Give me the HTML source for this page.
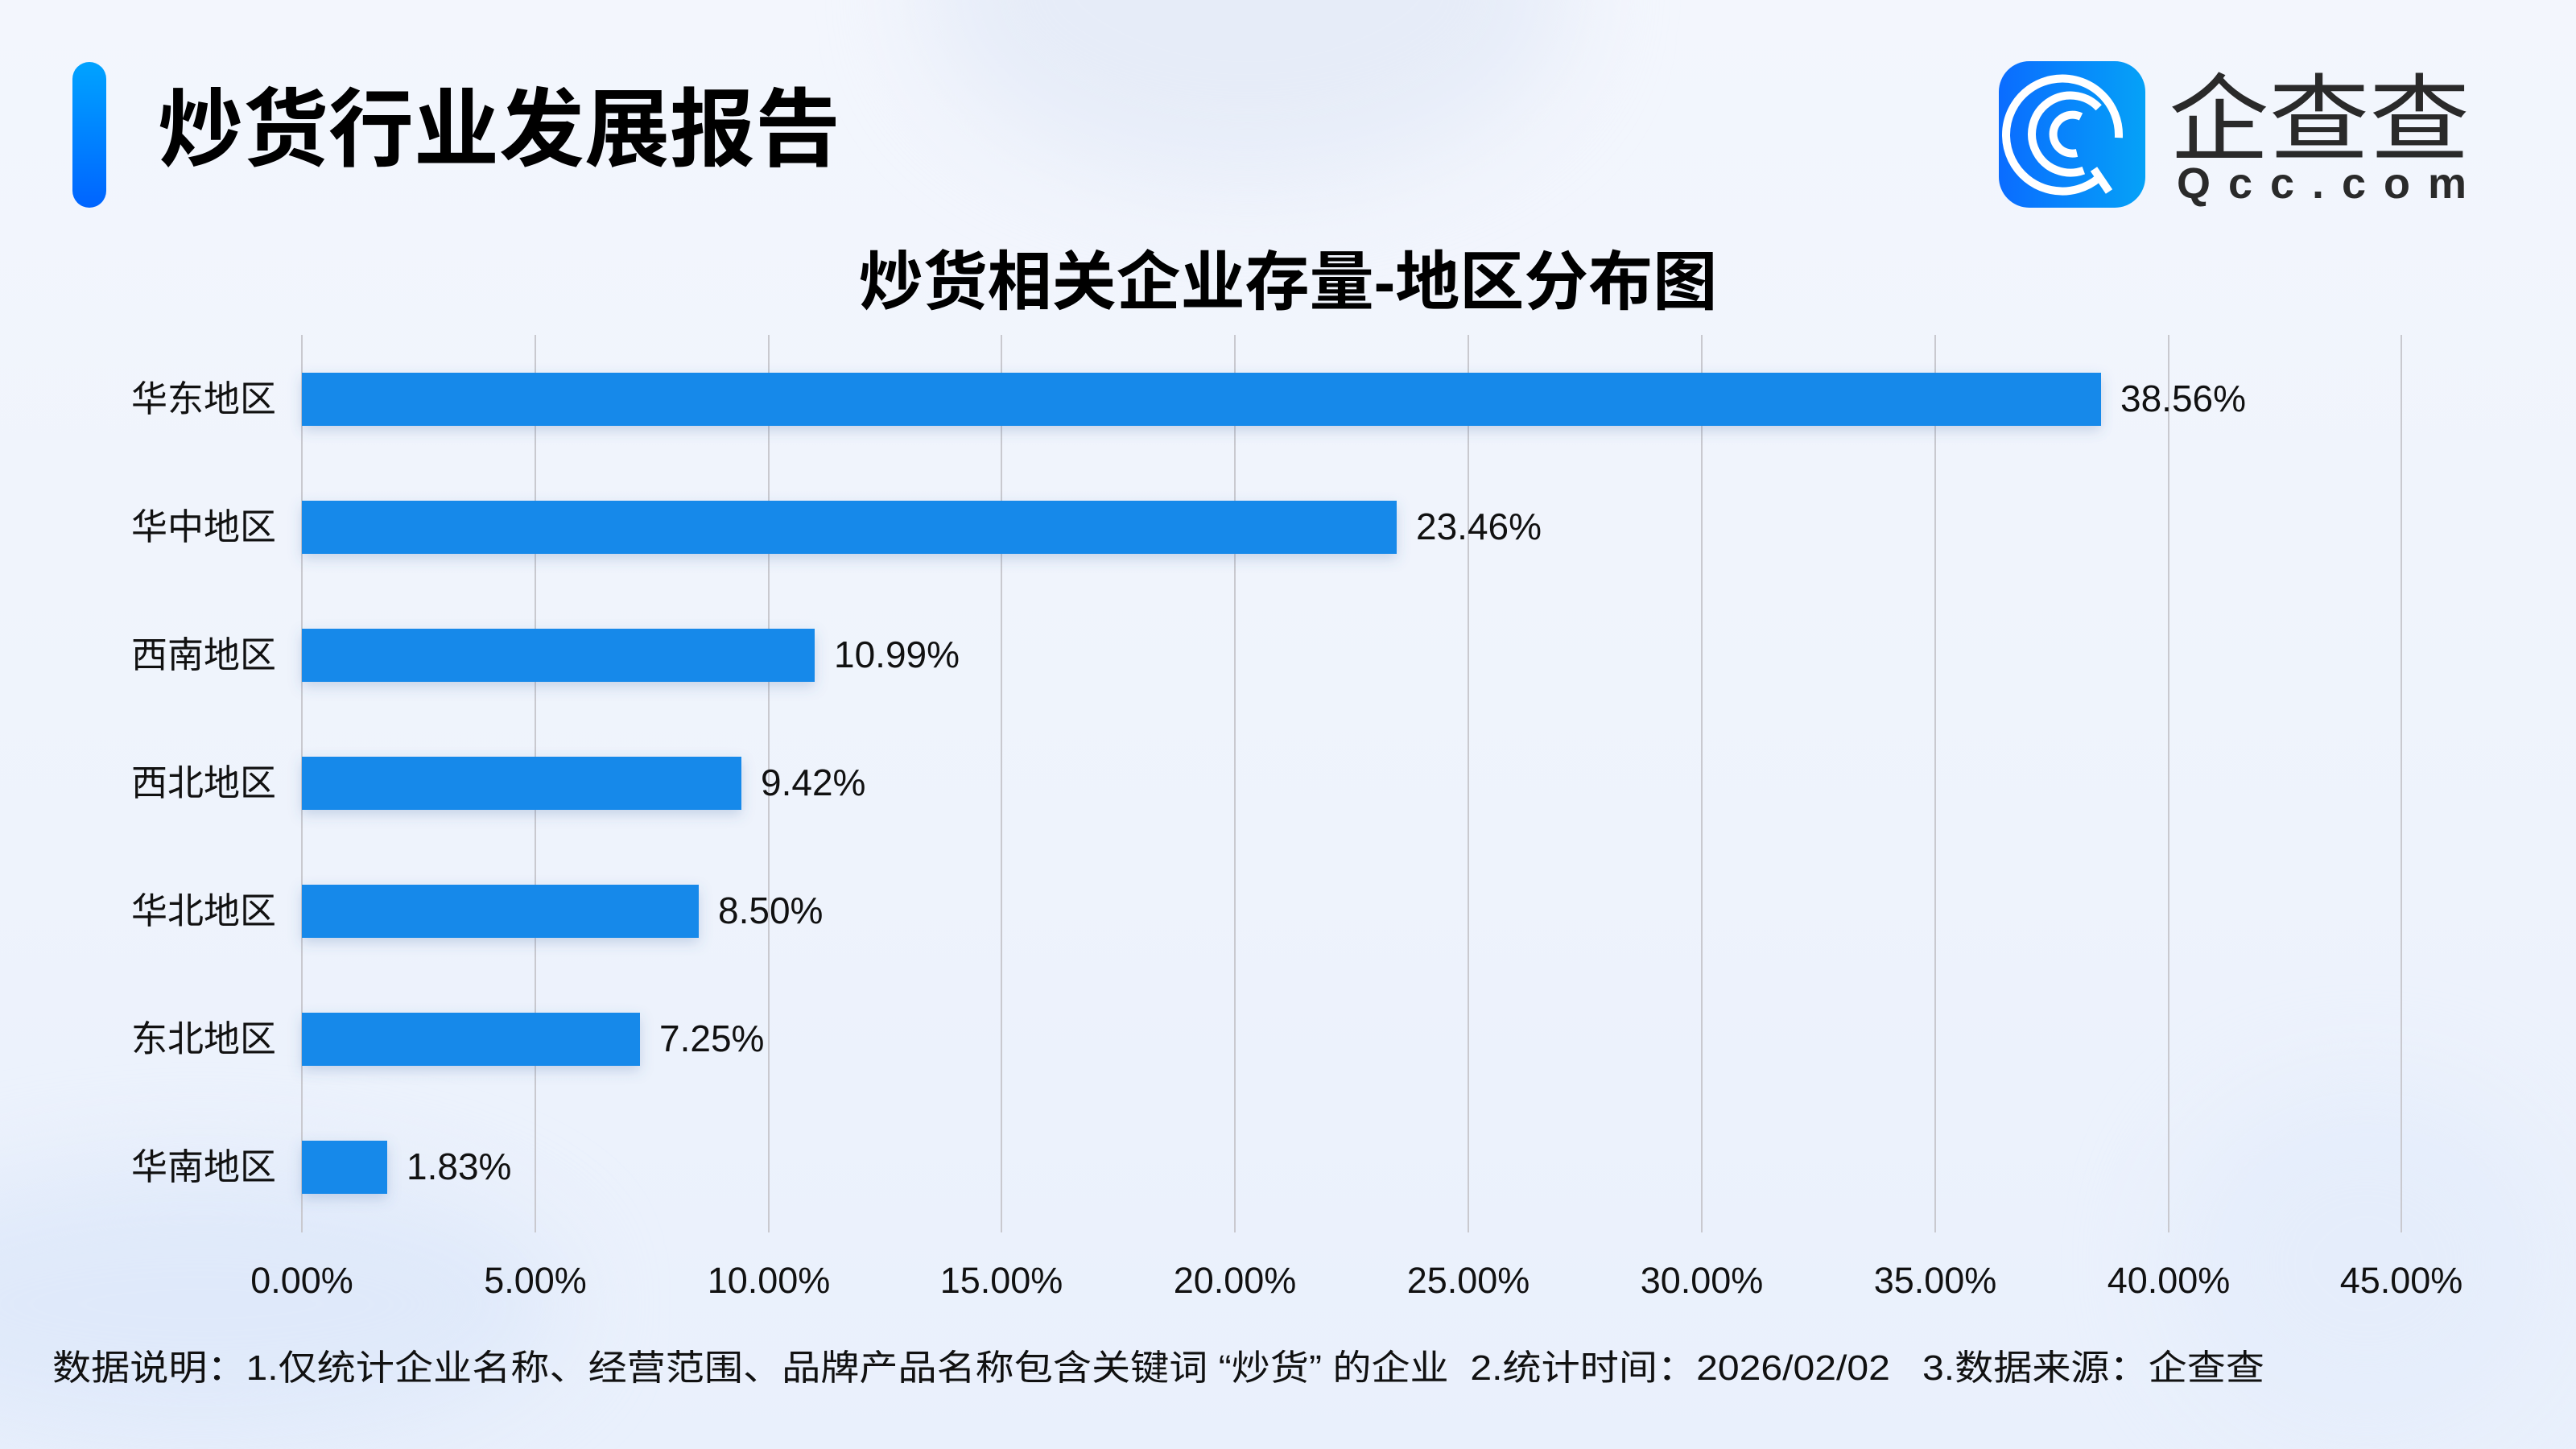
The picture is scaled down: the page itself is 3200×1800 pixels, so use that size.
<!DOCTYPE html>
<html><head><meta charset="utf-8">
<style>
html,body{margin:0;padding:0;width:3200px;height:1800px;overflow:hidden;}
#wrap{width:3200px;height:1800px;overflow:hidden;background:linear-gradient(180deg,#f3f6fd 0%,#eef3fc 60%,#e9f0fc 100%);position:relative;font-family:"Liberation Sans","Noto Sans CJK SC",sans-serif;}
.blob{position:absolute;border-radius:50%;filter:blur(60px);}
</style></head>
<body>
<div id="wrap">
<div class="blob" style="left:1150px;top:-250px;width:800px;height:480px;background:#e6ecf8;"></div>
<div class="blob" style="left:-200px;top:1450px;width:900px;height:340px;background:#dfe9fa;"></div>
<div class="blob" style="left:2700px;top:1350px;width:480px;height:440px;background:#e5edfb;"></div>
<svg width="3200" height="1800" viewBox="0 0 3200 1800" style="position:absolute;left:0;top:0" font-family="'Liberation Sans','Noto Sans CJK SC',sans-serif">
<defs>
<linearGradient id="acc" x1="0" y1="0" x2="0" y2="1"><stop offset="0" stop-color="#00a3ff"/><stop offset="1" stop-color="#0064ff"/></linearGradient>
<linearGradient id="logo" x1="0" y1="0" x2="1" y2="0"><stop offset="0" stop-color="#0a6cff"/><stop offset="1" stop-color="#05a2f7"/></linearGradient>
<filter id="sh" x="-5%" y="-50%" width="110%" height="200%"><feDropShadow dx="0" dy="6" stdDeviation="8" flood-color="#4a6fa8" flood-opacity="0.25"/></filter>
</defs>
<rect x="90" y="77" width="42" height="181" rx="21" fill="url(#acc)"/>
<text x="196" y="198" font-size="106" font-weight="bold" fill="#000">炒货行业发展报告</text>
<rect x="2483" y="76" width="182" height="182" rx="38" fill="url(#logo)"/>
<g fill="none" stroke="#fff" stroke-linecap="butt">
<path d="M2624 205 A70 70 0 1 1 2630 150" stroke-width="10" transform="rotate(20 2571 166)"/>
<path d="M2596 208 A48 48 0 1 1 2601 128" stroke-width="10" transform="rotate(10 2571 166)"/>
<path d="M2580 190 A24 24 0 1 1 2585 145" stroke-width="10"/>
<line x1="2601" y1="210" x2="2620" y2="238" stroke-width="10"/>
</g>
<text x="2694" y="190" font-size="118" fill="#2a2a2a" textLength="374" lengthAdjust="spacingAndGlyphs">企查查</text>
<text x="2704" y="246" font-size="54" font-weight="bold" fill="#2a2a2a" textLength="360">Qcc.com</text>
<text x="1600" y="378" font-size="80" font-weight="bold" text-anchor="middle" fill="#000">炒货相关企业存量-地区分布图</text>
<g stroke="#c9c9cf" stroke-width="2">
<line x1="375" y1="416" x2="375" y2="1531"/><line x1="665" y1="416" x2="665" y2="1531"/>
<line x1="955" y1="416" x2="955" y2="1531"/><line x1="1244" y1="416" x2="1244" y2="1531"/>
<line x1="1534" y1="416" x2="1534" y2="1531"/><line x1="1824" y1="416" x2="1824" y2="1531"/>
<line x1="2114" y1="416" x2="2114" y2="1531"/><line x1="2404" y1="416" x2="2404" y2="1531"/>
<line x1="2694" y1="416" x2="2694" y2="1531"/><line x1="2983" y1="416" x2="2983" y2="1531"/>
</g>
<g fill="#1589ea" filter="url(#sh)">
<rect x="375" y="463" width="2235" height="66"/>
<rect x="375" y="622" width="1360" height="66"/>
<rect x="375" y="781" width="637" height="66"/>
<rect x="375" y="940" width="546" height="66"/>
<rect x="375" y="1099" width="493" height="66"/>
<rect x="375" y="1258" width="420" height="66"/>
<rect x="375" y="1417" width="106" height="66"/>
</g>
<g font-size="45" fill="#111" text-anchor="end">
<text x="343" y="511">华东地区</text><text x="343" y="670">华中地区</text><text x="343" y="829">西南地区</text>
<text x="343" y="988">西北地区</text><text x="343" y="1147">华北地区</text><text x="343" y="1306">东北地区</text>
<text x="343" y="1465">华南地区</text>
</g>
<g font-size="46" fill="#111">
<text x="2634" y="511">38.56%</text><text x="1759" y="670">23.46%</text><text x="1036" y="829">10.99%</text>
<text x="945" y="988">9.42%</text><text x="892" y="1147">8.50%</text><text x="819" y="1306">7.25%</text>
<text x="505" y="1465">1.83%</text>
</g>
<g font-size="45" fill="#111" text-anchor="middle">
<text x="375" y="1606">0.00%</text><text x="665" y="1606">5.00%</text><text x="955" y="1606">10.00%</text>
<text x="1244" y="1606">15.00%</text><text x="1534" y="1606">20.00%</text><text x="1824" y="1606">25.00%</text>
<text x="2114" y="1606">30.00%</text><text x="2404" y="1606">35.00%</text><text x="2694" y="1606">40.00%</text>
<text x="2983" y="1606">45.00%</text>
</g>
<text x="65" y="1714" font-size="44" fill="#111" textLength="2748" lengthAdjust="spacingAndGlyphs" xml:space="preserve">数据说明：1.仅统计企业名称、经营范围、品牌产品名称包含关键词 “炒货” 的企业  2.统计时间：2026/02/02   3.数据来源：企查查</text>
</svg>
</div>
</body></html>
